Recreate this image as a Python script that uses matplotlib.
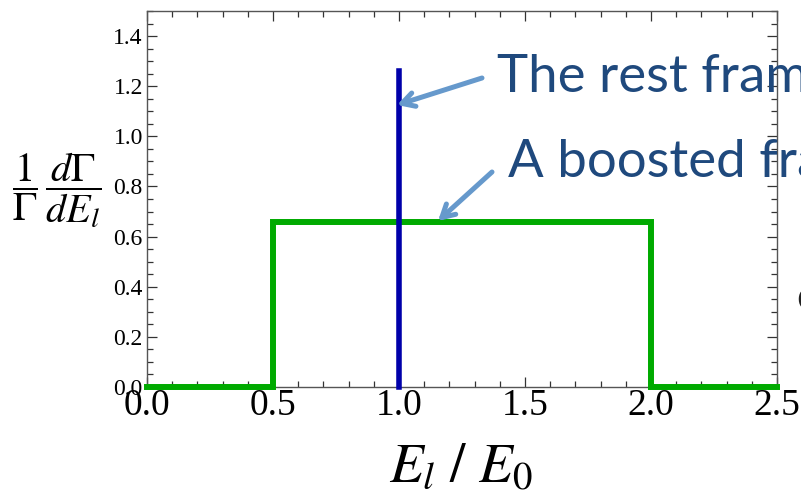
"""
Lepton energy spectrum: rest frame (delta line) vs. a boosted frame (flat box).
"""

import matplotlib

matplotlib.use("Agg")

import matplotlib.pyplot as plt
from matplotlib.ticker import MultipleLocator


# ---------------------------------------------------------------------
# Data
# ---------------------------------------------------------------------

# rest frame: a spike at E_l / E_0 = 1
rest_x = [1.0, 1.0]
rest_y = [0.0, 1.26]

# boosted frame: flat distribution between 0.5 and 2.0
boost_x = [0.0, 0.5, 0.5, 2.0, 2.0, 2.5]
boost_y = [0.0, 0.0, 0.66, 0.66, 0.0, 0.0]

y_ticks = [0.0, 0.2, 0.4, 0.6, 0.8, 1.0, 1.2, 1.4]
x_ticks = [0.0, 0.5, 1.0, 1.5, 2.0, 2.5]

labels = ["The rest frame", "A boosted frame"]


# ---------------------------------------------------------------------
# Figure
# ---------------------------------------------------------------------

W, H = 801, 496
plt.rcParams["mathtext.fontset"] = "stix"
plt.rcParams["font.family"] = "Liberation Serif"

fig = plt.figure(figsize=(W / 100, H / 100), dpi=100)
ax = fig.add_axes([147 / W, (H - 387) / H, 630 / W, 376 / H])


def px(x, y):
    """Pixel position (top-left origin) to figure fraction."""
    return x / W, 1 - y / H


ax.plot(boost_x, boost_y, color="#00aa00", lw=4.3, clip_on=False,
        solid_joinstyle="miter", zorder=3)
ax.plot(rest_x, rest_y, color="#0000aa", lw=4.0, clip_on=False, zorder=4)

ax.set_xlim(0, 2.5)
ax.set_ylim(0, 1.5)
ax.set_xticks(x_ticks, [f"{v:.1f}" for v in x_ticks], fontsize=27)
ax.set_yticks(y_ticks, [f"{v:.1f}" for v in y_ticks], fontsize=17)
ax.xaxis.set_minor_locator(MultipleLocator(0.1))
ax.yaxis.set_minor_locator(MultipleLocator(0.05))

ax.tick_params(which="both", direction="in", top=True, right=True,
               color="#333333", width=0.9)
ax.tick_params(which="major", length=7)
ax.tick_params(which="minor", length=4)
ax.tick_params(axis="y", pad=3)
ax.tick_params(axis="x", pad=1)

for spine in ax.spines.values():
    spine.set_color("#555555")
    spine.set_linewidth(1.0)

# axis labels
fig.text(*px(461, 468), r"$E_l\ /\ E_0$", fontsize=40,
         ha="center", va="center")
fig.text(*px(57, 190), r"$\dfrac{1}{\Gamma}\,\dfrac{d\Gamma}{dE_l}$",
         fontsize=29, ha="center", va="center")

# annotations
text_color = "#1f497d"
arrow_color = "#6699cc"

fig.text(*px(497, 92), labels[0], fontsize=38, family="Lato",
         color=text_color, ha="left", va="baseline", zorder=1)
fig.text(*px(508, 177), labels[1], fontsize=38, family="Lato",
         color=text_color, ha="left", va="baseline", zorder=1)
fig.text(*px(796, 310), "c", fontsize=30, family="Lato",
         color="#222222", ha="left", va="baseline", zorder=1)

arrow_style = dict(arrowstyle="->,head_length=0.9,head_width=0.5",
                   color=arrow_color, lw=3.6, shrinkA=0, shrinkB=0,
                   capstyle="round", joinstyle="round")
ax.annotate("", xy=px(397, 105), xytext=px(482, 78),
            xycoords="figure fraction", textcoords="figure fraction",
            arrowprops=arrow_style, annotation_clip=False, zorder=5)
ax.annotate("", xy=px(438, 221), xytext=px(492, 172),
            xycoords="figure fraction", textcoords="figure fraction",
            arrowprops=arrow_style, annotation_clip=False, zorder=5)

fig.savefig("out.png", dpi=100)
